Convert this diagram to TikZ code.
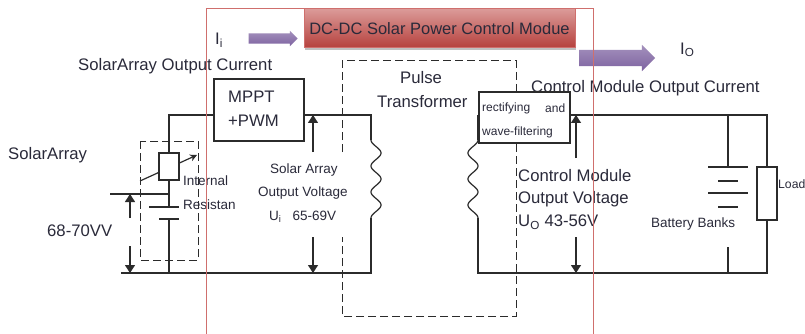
\documentclass[tikz,border=0pt]{standalone}
\usepackage{fontspec}
\setmainfont{Liberation Sans}
\usetikzlibrary{arrows.meta,shapes.arrows,shadows}
\definecolor{inkcol}{HTML}{2A2A3A}
\definecolor{wirecol}{HTML}{2B2B2B}
\definecolor{framecol}{HTML}{CF6F6D}
\definecolor{arrowcol}{HTML}{7D62A0}
\definecolor{ctrltop}{HTML}{DB9A98}
\definecolor{ctrlbot}{HTML}{B5403C}
\tikzset{
  wire/.style={draw=wirecol,line width=1.2pt},
  dashbox/.style={draw=wirecol,line width=1pt,dash pattern=on 8pt off 4pt},
  partbox/.style={draw=wirecol,line width=1.2pt,fill=white,inner sep=0pt},
  volt/.style={wirecol,line width=1.2pt,-{Triangle[width=10pt,length=8pt]}},
  fatarrow/.style={single arrow,inner xsep=0pt,shape border rotate=0,single arrow head indent=0pt,
    top color=arrowcol!70,bottom color=arrowcol,draw=none},
  bigtxt/.style={inner sep=0pt,anchor=west,text=inkcol,font=\fontsize{16.7}{17}\selectfont},
  smalltxt/.style={inner sep=0pt,anchor=west,text=inkcol,font=\fontsize{13.5}{14}\selectfont},
  tinytxt/.style={inner sep=0pt,anchor=west,text=inkcol,font=\fontsize{12}{12}\selectfont}
}
\begin{document}
\begin{tikzpicture}[x=1pt,y=-1pt]
  \useasboundingbox (0,0) rectangle (805,334);
  \fill[white] (0,0) rectangle (805,334);
  \draw[dashbox] (342,152) -- (342,61) -- (516,61) -- (516,316) -- (342,316) -- (342,237);
  \draw[dashbox] (140,141) rectangle (198,260);
  \node[bigtxt] (solaroutcur) at (78,66) {SolarArray Output Current};
  \node[bigtxt] (ctrloutcur) at (531,88) {Control Module Output Current};
  \coordinate (ltop) at (169,115);
  \coordinate (pritop) at (371,115);
  \coordinate (pricoila) at (371,140);
  \coordinate (pricoilb) at (371,218);
  \coordinate (pribot) at (371,273);
  \coordinate (lbot) at (121,273);
  \coordinate (sectop) at (478,115);
  \coordinate (seccoila) at (478,140);
  \coordinate (seccoilb) at (478,218);
  \coordinate (secbot) at (478,273);
  \coordinate (rtop) at (767,115);
  \coordinate (rbot) at (767,273);
  \coordinate (battop) at (728,115);
  \coordinate (batbot) at (728,273);
  \coordinate (platea) at (169,207);
  \coordinate (plateb) at (169,219);
  \coordinate (tapl) at (110,194);
  \coordinate (tapr) at (169,194);
  \node[partbox,minimum width=90pt,minimum height=62pt] (mppt) at (259,110) {};
  \node[partbox,minimum width=91pt,minimum height=51pt] (rect) at (524.5,117.5) {};
  \draw[wire,-{Stealth[length=7pt,width=7pt]}] (140,181) -- (197,155);
  \node[partbox,minimum width=20pt,minimum height=27pt] (res) at (169,166.5) {};
  \node[partbox,minimum width=20pt,minimum height=53pt] (load) at (767,193.5) {};
  \draw[wire] (mppt.west |- ltop) -- (ltop) -- (res.north);
  \draw[wire] (res.south) -- (platea);
  \draw[wire] (plateb) -- (169,273);
  \draw[wire] (tapl) -- (tapr);
  \draw[wire] (149,207) -- (179,207);
  \draw[wire] (159,219) -- (179,219);
  \draw[wire] (lbot) -- (pribot) -- (pricoilb);
  \draw[wire] (mppt.east |- pritop) -- (pritop) -- (pricoila);
  \draw[wire,domain=0:78,variable=\y,samples=70] plot ({371+5*(1-cos(\y/26*360))},{140+\y});
  \draw[wire,domain=0:78,variable=\y,samples=70] plot ({478-5*(1-cos(\y/26*360))},{140+\y});
  \draw[wire] (sectop) -- (seccoila);
  \draw[wire] (seccoilb) -- (secbot) -- (rbot) -- (load.south);
  \draw[wire] (rect.east |- rtop) -- (rtop) -- (load.north);
  \draw[wire] (battop) -- (728,167);
  \draw[wire] (728,247) -- (batbot);
  \draw[wire] (708,167) -- (748,167);
  \draw[wire] (718,181) -- (738,181);
  \draw[wire] (708,193) -- (748,193);
  \draw[wire] (718,207) -- (738,207);
  \draw[volt] (130,218) -- (130,194);
  \draw[volt] (130,246) -- (130,273);
  \draw[volt] (313,152) -- (313,115);
  \draw[volt] (313,237) -- (313,273);
  \draw[volt] (576,158) -- (576,115);
  \draw[volt] (576,237) -- (576,273);
  \node[bigtxt] (mppttxt) at (228,97) {MPPT};
  \node[bigtxt] (pwmtxt) at (228,121) {+PWM};
  \node[tinytxt] (recttxt) at (482,108) {rectifying};
  \node[tinytxt] (andtxt) at (545,108) {and};
  \node[tinytxt] (wavetxt) at (482,132) {wave-filtering};
  \node[bigtxt] (arraytxt) at (8,155) {SolarArray};
  \node[bigtxt] (vintxt) at (47,231) {68-70VV};
  \node[smalltxt] (inttxt) at (183,181) {Internal};
  \node[smalltxt] (restxt) at (183,205) {Resistan};
  \node[smalltxt] (solartxt) at (270,170) {Solar Array};
  \node[smalltxt] (outvtxt) at (258,193) {Output Voltage};
  \node[smalltxt] (uitxt) at (269,217) {U\textsubscript{i}\hspace{11pt}65-69V};
  \node[bigtxt] (pulsetxt) at (400,78) {Pulse};
  \node[bigtxt] (transtxt) at (377,102) {Transformer};
  \node[bigtxt] (ctrltxt) at (518,176) {Control Module};
  \node[bigtxt] (outtxt) at (518,199) {Output Voltage};
  \node[bigtxt] (uotxt) at (518,222) {U\textsubscript{O} 43-56V};
  \node[smalltxt] (battxt) at (651,224) {Battery Banks};
  \node[smalltxt,font=\fontsize{12.2}{14}\selectfont] (loadtxt) at (778,184) {Load};
  \node[bigtxt] (iitxt) at (215,40) {I\textsubscript{i}};
  \node[bigtxt] (iotxt) at (680,50) {I\textsubscript{O}};
  \node[fatarrow,minimum height=49pt,inner ysep=5pt,single arrow head extend=2.5pt] (iiarrow) at (270.5,38.5) {};
  \draw[framecol,line width=1pt] (206,334) -- (206,9) -- (593,9) -- (593,334);
  \node[draw=framecol,line width=1pt,inner sep=0pt,minimum width=271pt,minimum height=39pt,
    top color=ctrltop,bottom color=ctrlbot,
    drop shadow={shadow xshift=1pt,shadow yshift=-2pt,opacity=0.5},
    font=\fontsize{16.5}{17}\selectfont,text=inkcol] (ctrlbox) at (439.5,28.5) {DC-DC Solar Power Control Modue};
  \node[fatarrow,minimum height=76pt,inner ysep=8pt,single arrow head extend=5pt] (ioarrow) at (613,58) {};
  \draw[framecol,line width=1pt] (593,48) -- (593,100);
\end{tikzpicture}
\end{document}
